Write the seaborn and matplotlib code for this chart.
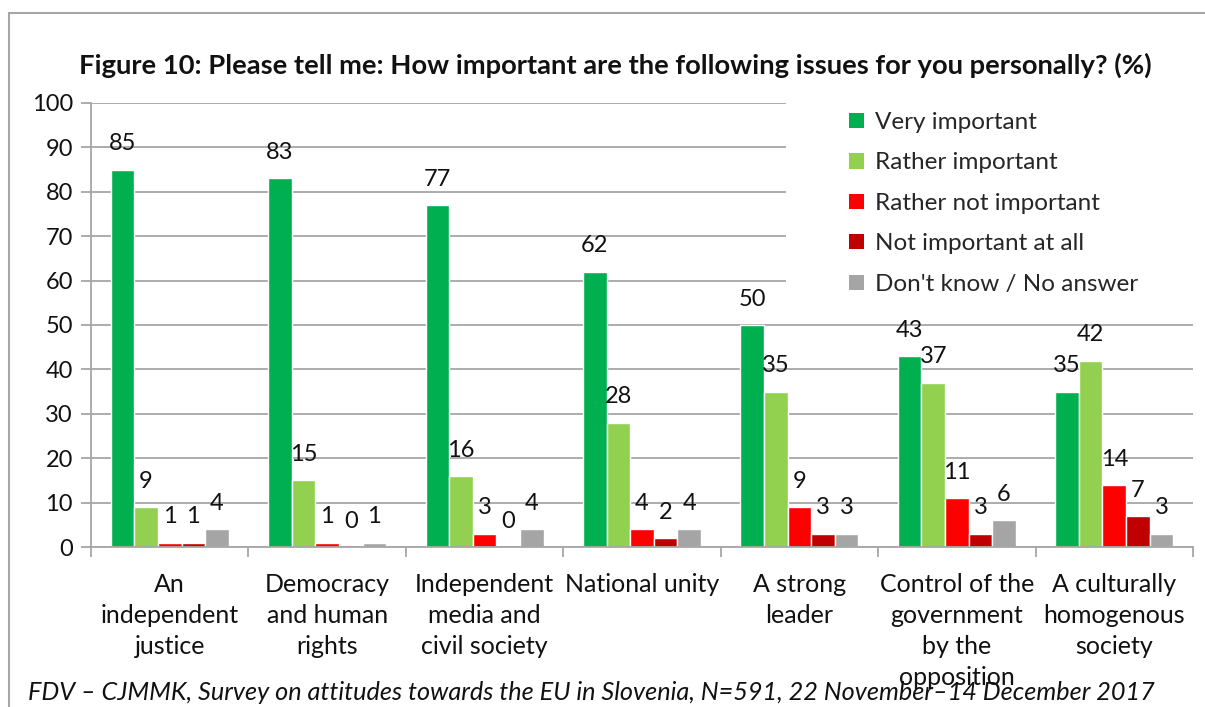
import matplotlib
matplotlib.use("Agg")
import matplotlib.pyplot as plt
from matplotlib.patches import Rectangle
import seaborn as sns
import pandas as pd

# Survey results (%)
categories = [
    "An\nindependent\njustice",
    "Democracy\nand human\nrights",
    "Independent\nmedia and\ncivil society",
    "National unity",
    "A strong\nleader",
    "Control of the\ngovernment\nby the\nopposition",
    "A culturally\nhomogenous\nsociety",
]
series_names = [
    "Very important",
    "Rather important",
    "Rather not important",
    "Not important at all",
    "Don't know / No answer",
]
very_important = [85, 83, 77, 62, 50, 43, 35]
rather_important = [9, 15, 16, 28, 35, 37, 42]
rather_not_important = [1, 1, 3, 4, 9, 11, 14]
not_important_at_all = [1, 0, 0, 2, 3, 3, 7]
dont_know = [4, 1, 4, 4, 3, 6, 3]
y_ticks = [0, 10, 20, 30, 40, 50, 60, 70, 80, 90, 100]

colors = ["#00B050", "#92D050", "#FF0000", "#C00000", "#A5A5A5"]

all_series = [very_important, rather_important, rather_not_important,
              not_important_at_all, dont_know]
rows = []
for name, vals in zip(series_names, all_series):
    for cat, v in zip(categories, vals):
        rows.append({"issue": cat, "answer": name, "pct": v})
df = pd.DataFrame(rows)

sns.set_theme(style="white")
plt.rcParams["font.family"] = ["Lato", "DejaVu Sans"]

W, H = 1205, 707
fig = plt.figure(figsize=(W / 100, H / 100), dpi=100)
ax = fig.add_axes([91 / W, 1 - 547 / H, (1193 - 91) / W, (547 - 103) / H])

sns.barplot(data=df, x="issue", y="pct", hue="answer", order=categories,
            hue_order=series_names, palette=colors, width=0.75,
            saturation=1, ax=ax, legend=False, zorder=2)

for cont in ax.containers:
    ax.bar_label(cont, fmt="{:.0f}", padding=11, fontsize=17, color="#111111")

# axes styling
ax.set_ylim(0, 100)
ax.set_xlim(-0.5, len(categories) - 0.5)
ax.set_yticks(y_ticks)
ax.set_yticklabels([str(t) for t in y_ticks], fontsize=17)
ax.yaxis.grid(True, color="#A6A6A6", linewidth=1.3, zorder=0)
ax.set_axisbelow(True)
ax.set_xlabel("")
ax.set_ylabel("")
for side in ["top", "right"]:
    ax.spines[side].set_visible(False)
ax.spines["left"].set_color("#A6A6A6")
ax.spines["bottom"].set_color("#A6A6A6")
ax.spines["left"].set_linewidth(1.3)
ax.spines["bottom"].set_linewidth(1.3)
ax.tick_params(axis="y", which="major", left=True, length=7, width=1.3,
               color="#A6A6A6", pad=6, labelcolor="#111111")
ax.set_xticks(range(len(categories)))
ax.set_xticklabels(categories, fontsize=18, linespacing=1.42, color="#111111")
ax.tick_params(axis="x", which="major", bottom=False, length=0, pad=19)
ax.set_xticks([i - 0.5 for i in range(len(categories) + 1)], minor=True)
ax.tick_params(axis="x", which="minor", bottom=True, length=7, width=1.3,
               color="#A6A6A6")
for lbl in ax.get_xticklabels():
    lbl.set_verticalalignment("top")

# blank area behind the legend
ax.add_patch(Rectangle((3.915, 53), 10, 60, facecolor="white", edgecolor="none",
                       zorder=1, clip_on=True))

handles = [Rectangle((0, 0), 1, 1, facecolor=c, edgecolor="none") for c in colors]
fig.legend(handles, series_names, loc="upper left",
           bbox_to_anchor=(832 / W, 1 - 95 / H), frameon=False,
           fontsize=17.5, handlelength=0.6, handleheight=0.6,
           handletextpad=0.45, labelspacing=0.8, borderpad=0.2)

fig.text(615 / W, 1 - 65 / H,
         "Figure 10: Please tell me: How important are the following issues for you personally? (%)",
         ha="center", va="center", fontsize=19.7, fontweight="bold", color="#111111")

fig.text(28 / W, 1 - 692 / H,
         "FDV – CJMMK, Survey on attitudes towards the EU in Slovenia, N=591, 22 November–14 December 2017",
         ha="left", va="center", fontsize=18.2, style="italic", color="#111111")

# outer frame
fig.add_artist(Rectangle((9 / W, -0.2), 1.2, 1.2 - 13 / H, transform=fig.transFigure,
                         facecolor="none", edgecolor="#A6A6A6", linewidth=1.5,
                         clip_on=False))

fig.savefig("out.png", dpi=100)
